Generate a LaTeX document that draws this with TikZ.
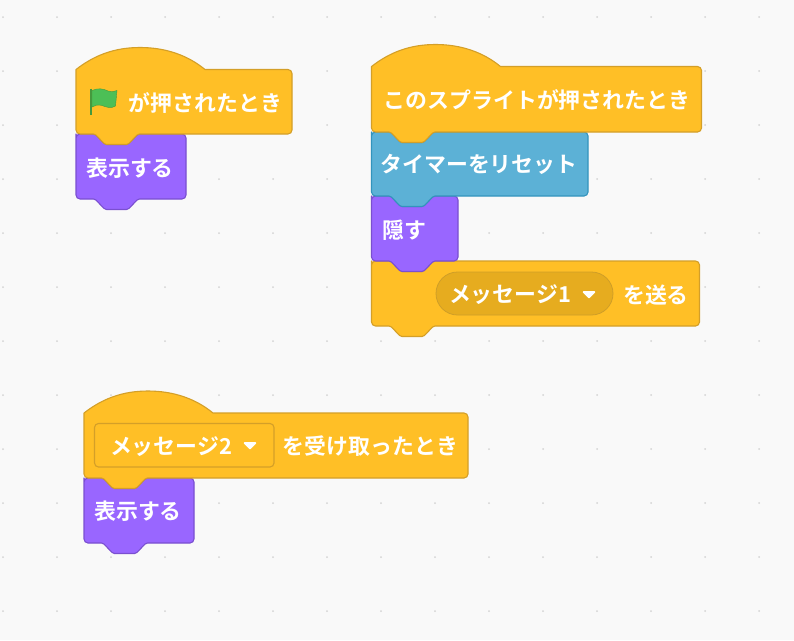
\documentclass[tikz,border=0pt]{standalone}
\usepackage{fontspec}
\setmainfont{Noto Sans CJK JP}[BoldFont={Noto Sans CJK JP Bold}]
\definecolor{bgc}{HTML}{F9F9F9}
\definecolor{dotc}{HTML}{D4D4D4}
\definecolor{yel}{HTML}{FFBF26}
\definecolor{yels}{HTML}{D49F28}
\definecolor{pur}{HTML}{9966FF}
\definecolor{purs}{HTML}{7A4FD0}
\definecolor{blu}{HTML}{5CB1D6}
\definecolor{blus}{HTML}{3394BD}
\definecolor{pill}{HTML}{E6AC1F}
\definecolor{pills}{HTML}{CF9E28}
\definecolor{flagc}{HTML}{4CBF56}
\definecolor{flags}{HTML}{45993D}
\tikzset{
  x=1pt,y=-1pt,
  blockshape/.style={line width=1.1pt,line join=round},
  yellowblock/.style={blockshape,fill=yel,draw=yels},
  purpleblock/.style={blockshape,fill=pur,draw=purs},
  blueblock/.style={blockshape,fill=blu,draw=blus},
  label/.style={text=white,font=\fontsize{21.9}{24}\selectfont\bfseries,inner sep=0pt,anchor=center,yshift=-0.8pt},
  griddot/.style={fill=dotc,draw=none},
  arrowtri/.style={fill=white,draw=white,line width=1.6pt,line join=round},
}
% x, y, w, h
\newcommand{\stackblk}[5]{\path[#5,rounded corners=1.5pt] ({#1},{#2+4}) [rounded corners=4pt] -- ({#1},{#2}) [rounded corners=1.5pt] -- ({#1+19},{#2}) -- ({#1+29},{#2+10.5}) -- ({#1+52},{#2+10.5}) -- ({#1+62},{#2}) [rounded corners=4pt] -- ({#1+#3},{#2}) -- ({#1+#3},{#2+#4}) [rounded corners=1.5pt] -- ({#1+62},{#2+#4}) -- ({#1+52},{#2+#4+10.5}) -- ({#1+29},{#2+#4+10.5}) -- ({#1+19},{#2+#4}) [rounded corners=4pt] -- ({#1},{#2+#4}) -- cycle;}
% x, shoulder y, w, h
\newcommand{\hatblk}[5]{\path[#5] ({#1},{#2}) .. controls ({#1+18},{#2-14}) and ({#1+38},{#2-22}) .. ({#1+64},{#2-22}) .. controls ({#1+90},{#2-22}) and ({#1+112},{#2-14}) .. ({#1+129},{#2}) [rounded corners=4pt] -- ({#1+#3},{#2}) -- ({#1+#3},{#2+#4}) [rounded corners=1.5pt] -- ({#1+62},{#2+#4}) -- ({#1+52},{#2+#4+10.5}) -- ({#1+29},{#2+#4+10.5}) -- ({#1+19},{#2+#4}) [rounded corners=4pt] -- ({#1},{#2+#4}) [sharp corners] -- cycle;}
\begin{document}
\begin{tikzpicture}
\useasboundingbox (0,0) rectangle (794,640);
\fill[bgc] (0,0) rectangle (794,640);
\foreach \i in {0,...,14}{\foreach \j in {0,...,11}{
  \fill[griddot] ({3+54*\i},{17+54*\j}) circle (1pt);
}}
% stack 1
\stackblk{76}{134}{110}{65}{purpleblock}
\hatblk{76}{69.5}{216}{64.5}{yellowblock}
\node[label] (t1) at (205.5,102) {が押されたとき};
\node[label] (t2) at (130,167) {表示する};
% flag
\fill[flagc,draw=flags,line width=0.4pt] (92,90.5) .. controls (98,87.5) and (104,89) .. (108,91) .. controls (111,92) and (114,92) .. (117,90.5) -- (115.5,106) .. controls (111,109) and (106,107) .. (102,105.5) .. controls (98,104.5) and (95,105) .. (92,107) -- cycle;
\draw[flags,line width=2pt] (91,88.5) -- (91,115);
% stack 2
\stackblk{371.5}{261}{328}{65}{yellowblock}
\stackblk{371.5}{196}{86.5}{65}{purpleblock}
\stackblk{371.5}{132}{216.5}{64}{blueblock}
\hatblk{371.5}{66.5}{330}{65.5}{yellowblock}
\node[label] (t3) at (537,99) {このスプライトが押されたとき};
\node[label] (t4) at (479,164) {タイマーをリセット};
\node[label] (t5) at (404,229) {隠す};
\draw[fill=pill,draw=pills,line width=0.8pt,rounded corners=21.5pt] (436,272) rectangle (613,315);
\node[label] (t6) at (510,294) {メッセージ1};
\path[arrowtri] (583.5,292) -- (594.5,292) -- (589,297.5) -- cycle;
\node[label] (t7) at (656,294) {を送る};
% stack 3
\stackblk{84}{478}{110}{65}{purpleblock}
\hatblk{84}{413}{384}{65}{yellowblock}
\draw[fill=yel,draw=yels,line width=1.1pt,rounded corners=4pt] (94.5,423.5) rectangle (274,467);
\node[label] (t8) at (171,446) {メッセージ2};
\path[arrowtri] (244.5,443) -- (255.5,443) -- (250,448.5) -- cycle;
\node[label] (t9) at (370.5,445) {を受け取ったとき};
\node[label] (t10) at (138,510) {表示する};
\end{tikzpicture}
\end{document}
